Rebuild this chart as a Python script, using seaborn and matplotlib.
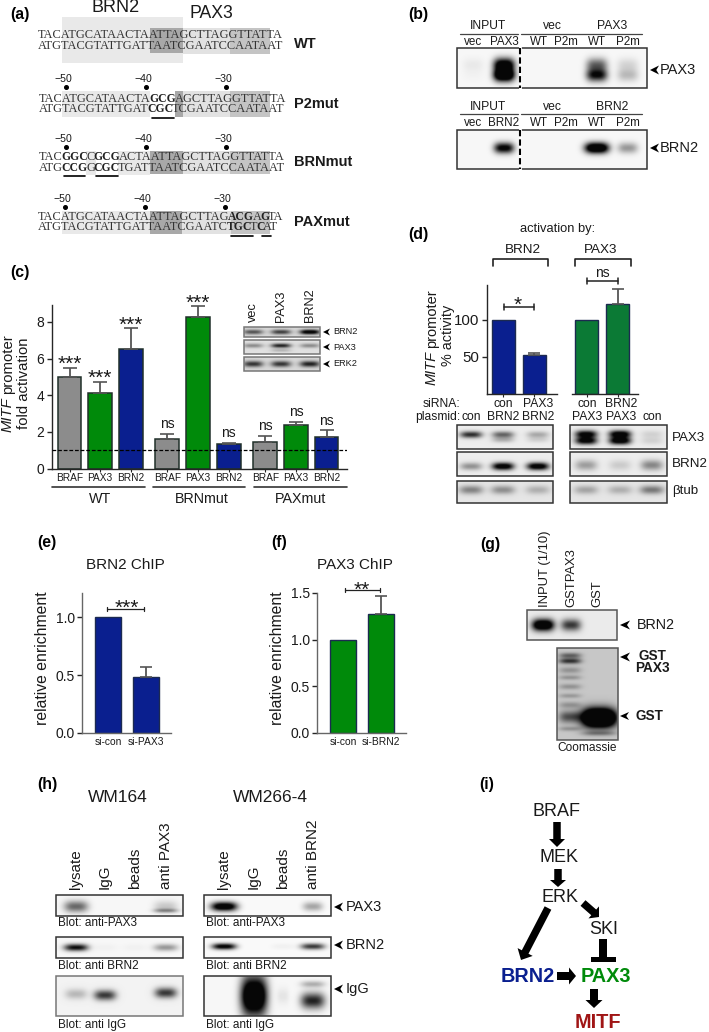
import numpy as np
import pandas as pd
import matplotlib
matplotlib.use("Agg")
import matplotlib.pyplot as plt
from matplotlib.patches import Rectangle, Polygon, FancyArrow
import seaborn as sns

# ---------- panel (c) ----------
c_positions = [0, 1, 2, 3.2, 4.2, 5.2, 6.4, 7.4, 8.4]
c_effectors = ["BRAF", "PAX3", "BRN2"] * 3
c_values = [5.0, 4.15, 6.5, 1.6, 8.25, 1.35, 1.45, 2.4, 1.75]
c_errors = [0.5, 0.6, 1.15, 0.3, 0.6, 0.07, 0.35, 0.15, 0.35]
c_sig = ["***", "***", "***", "ns", "***", "ns", "ns", "ns", "ns"]
c_groups = ["WT", "BRNmut", "PAXmut"]

# ---------- panel (d) ----------
d_left_labels = ["con BRN2", "PAX3 BRN2"]
d_left_values = [100, 53]
d_left_errors = [0, 2.5]
d_right_labels = ["con PAX3", "BRN2 PAX3"]
d_right_values = [100, 122]
d_right_errors = [0, 20]

# ---------- panels (e), (f) ----------
e_labels = ["si-con", "si-PAX3"]
e_values = [1.0, 0.48]
e_errors = [0, 0.09]
f_labels = ["si-con", "si-BRN2"]
f_values = [1.0, 1.28]
f_errors = [0, 0.19]

# ---------- panel (a) sequences ----------
seq_wt_top = "TACATGCATAACTAATTAGCTTAGGTTATTA"
seq_wt_bottom = "ATGTACGTATTGATTAATCGAATCCAATAAT"

# ---------- blot band strengths per lane ----------
b_pax3_upper = [0.06, 1.3, 0, 0, 0.6, 0.14]
b_pax3_lower = [0.02, 1.6, 0, 0, 1.0, 0.25]
b_brn2 = [0, 1.1, 0, 0, 1.5, 0.4]
c_blot_brn2 = [0.65, 0.75, 1.2]
c_blot_pax3 = [0.4, 0.9, 0.4]
c_blot_erk2 = [0.8, 0.8, 0.9]
d_left_pax3 = [0.85, 0.6, 0.3]
d_left_brn2 = [0.4, 1.2, 1.2]
d_left_btub = [0.45, 0.4, 0.25]
d_right_pax3 = [1.1, 1.2, 0.12]
d_right_brn2 = [0.35, 0.15, 0.45]
d_right_btub = [0.3, 0.25, 0.5]
g_brn2 = [1.5, 0.8, 0]
h_left_pax3 = [0.6, 0, 0, 0.2]
h_right_pax3 = [1.3, 0, 0, 0.35]
h_left_brn2 = [1.0, 0.03, 0.03, 0.4]
h_right_brn2 = [1.1, 0, 0.04, 0.8]
h_left_igg = [0.25, 0.8, 0, 0.8]
h_right_igg = [0, 1.6, 0.08, 0.9]

BLUE = "#0a1f8f"
GREEN = "#008a0a"
DGREEN = "#0b7a35"
GRAY = "#8c8c8c"
W, H = 709, 1032

sns.set_theme(style="ticks")
plt.rcParams["font.family"] = ["Liberation Sans", "DejaVu Sans"]
plt.rcParams["axes.linewidth"] = 1.0

fig = plt.figure(figsize=(W / 100, H / 100), dpi=100)
ov = fig.add_axes([0, 0, 1, 1], zorder=5)
ov.patch.set_alpha(0)
ov.axis("off")


def px_axes(x0, x1, y_top, y_bottom):
    ax = fig.add_axes([x0 / W, 1 - y_bottom / H, (x1 - x0) / W, (y_bottom - y_top) / H])
    ax.patch.set_alpha(0)
    sns.despine(ax=ax)
    return ax


def txt(x, y, s, size=8.7, ha="center", va="center", **kw):
    return ov.text(x, y, s, fontsize=size, ha=ha, va=va, color=kw.pop("color", "#1a1a1a"), **kw)


def panel(x, y, s):
    txt(x, y, s, size=11.4, fontweight="bold", color="black")


def mitf_label(x, y_bottom, rest, size):
    # MITF is italic, the rest upright, stacked along the rotated line
    t = txt(x, y_bottom, "MITF", size=size, rotation=90, va="bottom", style="italic")
    h = t.get_window_extent(fig.canvas.get_renderer()).height
    txt(x, y_bottom - h - 3, rest, size=size, rotation=90, va="bottom")


def head(x_tip, y, length=8, half=4):
    ov.add_patch(Polygon([(x_tip, y), (x_tip + length, y - half), (x_tip + length * 0.7, y),
                          (x_tip + length, y + half)], color="black", lw=0, zorder=6))


def blot(box, lane_x, layers, hw=10, bg=0.97, edge="#333333", lw=1.1):
    x0, x1, y0, y1 = box
    xs = np.linspace(x0, x1, int((x1 - x0) * 2))
    ys = np.linspace(0, 1, int((y1 - y0) * 2))
    xx, yy = np.meshgrid(xs, ys)
    img = np.zeros_like(xx)
    hws = np.broadcast_to(hw, (len(lane_x),))
    for levels, y, hh in layers:
        yl = np.broadcast_to(y, (len(lane_x),))
        hl = np.broadcast_to(hh, (len(lane_x),))
        for i, lx in enumerate(lane_x):
            img += levels[i] * np.exp(-np.abs((xx - lx) / hws[i]) ** 3) * np.exp(-((yy - yl[i]) / hl[i]) ** 2)
    img = bg * (1 - np.clip(img, 0, 1)) + 0.03 * np.clip(img, 0, 1)
    ov.imshow(img, cmap="gray", vmin=0, vmax=1, extent=(x0, x1, y1, y0), aspect="auto",
              interpolation="bilinear", zorder=1)
    ov.add_patch(Rectangle((x0, y0), x1 - x0, y1 - y0, fill=False, ec=edge, lw=lw, zorder=2))


def whisker(x0, x1, y, cap=3, lw=1.1, color="#222222"):
    ov.plot([x0, x1], [y, y], color=color, lw=lw)
    ov.plot([x0, x0], [y - cap, y + cap], color=color, lw=lw)
    ov.plot([x1, x1], [y - cap, y + cap], color=color, lw=lw)


def bracket(x0, x1, y_top, y_bottom):
    ov.plot([x0, x0, x1, x1], [y_bottom, y_top, y_top, y_bottom], color="#222222", lw=1.2)


def seq_line(x, y, parts, size=8.95):
    # fragments sit side by side, the extent is a little wider than the advance
    r = fig.canvas.get_renderer()
    for s, bold in parts:
        t = ov.text(x, y, s, fontsize=size - 0.6 if bold else size, family="Liberation Serif", ha="left", va="center",
                    color="#222222" if bold else "#333333", fontweight="bold" if bold else "normal", zorder=4)
        x += t.get_window_extent(r).width - 1.5
    return x


def shade(x0, x1, y0, y1, color):
    ov.add_patch(Rectangle((x0, y0), x1 - x0, y1 - y0, color=color, lw=0, zorder=1))


def simple_bars(ax, labels, values, errors, color, width, edge=None):
    df = pd.DataFrame({"label": labels, "value": values})
    sns.barplot(data=df, x="label", y="value", color=color, width=width, errorbar=None, saturation=1,
                edgecolor=edge if edge else "#1c2a50", linewidth=1.0, ax=ax)
    for i, (v, e) in enumerate(zip(values, errors)):
        if e > 0:
            ax.errorbar([i], [v], yerr=[[0], [e]], fmt="none", ecolor="#555555",
                        elinewidth=1.3, capsize=4.5, capthick=1.2)
    ax.set_xlabel("")
    ax.set_ylabel("")


# ---------- (a) ----------
panel(20, 15, "(a)")
txt(116, 8, "BRN2", size=13)
txt(211, 14, "PAX3", size=12.7)

shade(62, 183, 17, 63, "#e9e9e9")
shade(183, 230, 28, 54, "#e2e2e2")
shade(230, 270, 28, 54, "#c4c4c4")
shade(150, 183, 28, 53, "#a8a8a8")
seq_line(38, 35, [(seq_wt_top, False)])
seq_line(38, 46, [(seq_wt_bottom, False)])
txt(294, 44, "WT", size=10.5, ha="left", fontweight="bold")

for y_lab, y_dot, x_off in [(79, 87, 0), (139, 147, 0), (199, 207, -1)]:
    for dx, lab in zip([65, 145, 225], ["\u221250", "\u221240", "\u221230"]):
        txt(dx - 2 + x_off, y_lab, lab, size=7.6)
        ov.plot([dx + 1 + x_off], [y_dot], "o", ms=2.6, color="black")

# P2mut
shade(62, 150, 91, 117, "#e9e9e9")
shade(175, 183, 91, 117, "#a8a8a8")
shade(183, 230, 91, 117, "#e2e2e2")
shade(230, 270, 91, 117, "#c4c4c4")
seq_line(39, 99, [("TACATGCATAACTA", False), ("GCG", True), ("AGCTTAGGTTATTA", False)])
seq_line(39, 109, [("ATGTACGTATTGAT", False), ("CGC", True), ("TCGAATCCAATAAT", False)])
ov.plot([152, 174], [118, 118], color="black", lw=1.2)
txt(294, 104, "P2mut", size=10.5, ha="left", fontweight="bold")

# BRNmut
shade(86, 96, 151, 175, "#e9e9e9")
shade(118, 150, 151, 175, "#e9e9e9")
shade(150, 183, 151, 174, "#a8a8a8")
shade(183, 230, 151, 174, "#e2e2e2")
shade(230, 270, 151, 174, "#c4c4c4")
seq_line(39, 157, [("TAC", False), ("GGC", True), ("C", False), ("GCG", True), ("ACTAATTAGCTTAGGTTATTA", False)])
seq_line(39, 168, [("ATG", False), ("CCG", True), ("G", False), ("CGC", True), ("TGATTAATCGAATCCAATAAT", False)])
ov.plot([64, 85], [176, 176], color="black", lw=1.2)
ov.plot([96, 118], [176, 176], color="black", lw=1.2)
txt(294, 162, "BRNmut", size=10.5, ha="left", fontweight="bold")

# PAXmut
shade(62, 150, 211, 234, "#e9e9e9")
shade(150, 182, 211, 234, "#a8a8a8")
shade(182, 231, 211, 234, "#e2e2e2")
shade(231, 270, 211, 234, "#c4c4c4")
seq_line(38, 217, [("TACATGCATAACTAATTAGCTTAG", False), ("ACG", True), ("A", False), ("G", True), ("TA", False)])
seq_line(38, 227, [("ATGTACGTATTGATTAATCGAATC", False), ("TGC", True), ("T", False), ("C", True), ("AT", False)])
ov.plot([231, 253], [236, 236], color="black", lw=1.2)
ov.plot([262, 271], [236, 236], color="black", lw=1.2)
txt(294, 222, "PAXmut", size=10.5, ha="left", fontweight="bold")

# ---------- (b) ----------
panel(418, 15, "(b)")
b_lanes = [473, 504, 539, 566, 597, 628]
for y_head, y_line, y_lane, name, y_arrow, box, layers, hw in [
    (26, 34, 42, "PAX3", 70, (457, 647, 48, 88),
     [(b_pax3_upper, 0.42, 0.17), (b_pax3_lower, 0.68, 0.16)], 10.5),
    (107, 114, 123, "BRN2", 148, (457, 647, 130, 169),
     [(b_brn2, 0.46, 0.14)], [9, 10, 9, 9, 12, 10]),
]:
    txt(488, y_head, "INPUT")
    txt(552, y_head, "vec")
    txt(612, y_head, name)
    ov.plot([460, 518], [y_line, y_line], color="#444444", lw=0.9)
    ov.plot([521, 642], [y_line, y_line], color="#444444", lw=0.9)
    for lx, lab in zip(b_lanes, ["vec", name, "WT", "P2m", "WT", "P2m"]):
        txt(lx, y_lane, lab, size=8.4)
    blot(box, b_lanes, layers, hw=hw)
    ov.plot([520, 520], [box[2] - 1, box[3] + 1], color="white", lw=2, zorder=3)
    ov.plot([520, 520], [box[2], box[3]], color="black", lw=1.5, ls=(0, (3, 1.5)), zorder=3)
    head(650, y_arrow, length=9, half=4.5)
    txt(660, y_arrow, name, size=10.5, ha="left")

# ---------- (c) ----------
panel(20, 273, "(c)")
ax_c = px_axes(52, 347, 305, 468.7)
df_c = pd.DataFrame({"pos": c_positions, "value": c_values, "effector": c_effectors})
sns.barplot(data=df_c, x="pos", y="value", hue="effector", palette={"BRAF": GRAY, "PAX3": GREEN, "BRN2": BLUE},
            native_scale=True, dodge=False, width=0.78, errorbar=None, saturation=1, legend=False,
            edgecolor="#20302a", linewidth=1.1, ax=ax_c)
ax_c.errorbar(c_positions, c_values, yerr=[[0] * 9, c_errors], fmt="none", ecolor="#555555", elinewidth=1.3,
              capsize=5, capthick=1.2)
ax_c.axhline(1, color="black", lw=0.9, ls=(0, (3, 1.5)), zorder=5)
ax_c.set_xlim(-0.572, 9.07)
ax_c.set_ylim(0, 8.92)
ax_c.set_yticks([0, 2, 4, 6, 8])
ax_c.set_xticks(c_positions)
ax_c.set_xticklabels(c_effectors)
ax_c.tick_params(axis="y", labelsize=10, length=3.5, width=1, pad=2, labelcolor="#1a1a1a")
ax_c.tick_params(axis="x", labelsize=7.3, length=2, width=0.8, pad=1, labelcolor="#1a1a1a")
ax_c.set_xlabel("")
ax_c.set_ylabel("")
for p, v, e, s in zip(c_positions, c_values, c_errors, c_sig):
    if s == "ns":
        ax_c.annotate(s, (p, v + e), xytext=(0, 4), textcoords="offset points", ha="center", va="baseline",
                      fontsize=10, color="#1a1a1a")
    else:
        ax_c.annotate(s, (p, v + e), xytext=(0, -1.5), textcoords="offset points", ha="center", va="baseline",
                      fontsize=15, color="#1a1a1a")
mitf_label(8, 432, "promoter", 10.7)
txt(24, 383, "fold activation", size=10.7, rotation=90)
for x0, x1, xc, lab in zip([52, 153, 254], [145, 245, 347], [100, 202, 300], c_groups):
    ov.plot([x0, x1], [487, 487], color="#333333", lw=1.2)
    txt(xc, 499, lab, size=10.3)

c_lanes = [253, 281, 310]
for lx, lab in zip(c_lanes, ["vec", "PAX3", "BRN2"]):
    txt(lx, 322, lab, size=9.2, rotation=90, va="bottom")
blot((244, 320, 327, 337), c_lanes, [(c_blot_brn2, 0.5, 0.25)], hw=10, bg=0.85, edge="#777777")
blot((244, 320, 340, 354), c_lanes, [(c_blot_pax3, 0.4, 0.16), ([0, 0.2, 0], 0.75, 0.12)], hw=10, bg=0.88, edge="#777777")
blot((244, 320, 357, 371), c_lanes, [(c_blot_erk2, 0.5, 0.22)], hw=10, bg=0.85, edge="#777777")
for y, lab in zip([332, 347, 364], ["BRN2", "PAX3", "ERK2"]):
    head(323, y, length=7, half=3.5)
    txt(333, y, lab, size=6.6, ha="left")

# ---------- (d) ----------
panel(418, 234, "(d)")
txt(558, 229, "activation by:", size=9.3)
txt(523, 250, "BRN2", size=9.7)
txt(601, 250, "PAX3", size=9.7)
bracket(493, 548, 259, 266)
bracket(575, 631, 259, 266)
txt(602, 273, "ns", size=10)
whisker(587, 618, 281)
whisker(504, 534, 307)
txt(518, 305, "*", size=15)

ax_d1 = px_axes(487, 557, 285, 394)
simple_bars(ax_d1, d_left_labels, d_left_values, d_left_errors, BLUE, 0.75)
ax_d1.set_xlim(-0.53, 1.726)
ax_d1.set_ylim(0, 147)
ax_d1.set_yticks([50, 100])
ax_d1.set_xticks([0, 1])
ax_d1.set_xticklabels(["", ""])
ax_d1.tick_params(axis="y", labelsize=10.8, length=3.5, width=1, pad=2, labelcolor="#1a1a1a")
ax_d1.tick_params(axis="x", length=2, width=0.8)

ax_d2 = px_axes(572, 638, 285, 394)
simple_bars(ax_d2, d_right_labels, d_right_values, d_right_errors, DGREEN, 0.75)
ax_d2.set_xlim(-0.468, 1.66)
ax_d2.set_ylim(0, 147)
ax_d2.set_yticks([])
ax_d2.spines["left"].set_visible(False)
ax_d2.set_xticks([0, 1])
ax_d2.set_xticklabels(["", ""])
ax_d2.tick_params(axis="x", length=2, width=0.8)

mitf_label(432, 385, "promoter", 10.5)
txt(448, 335, "% activity", size=10.4, rotation=90)

txt(460, 404, "siRNA:", ha="right", size=8.7)
txt(460, 417, "plasmid:", ha="right", size=8.7)
txt(471, 417, "con", size=8.7)
for x, a, b in [(503, "con", "BRN2"), (538, "PAX3", "BRN2"), (587, "con", "PAX3"), (621, "BRN2", "PAX3")]:
    txt(x, 404, a, size=8.7)
    txt(x, 417, b, size=8.7)
txt(652, 417, "con", size=8.7)

d_l = [471, 503, 538]
d_r = [586, 620, 652]
blot((457, 553, 425, 449), d_l, [(d_left_pax3, 0.4, 0.14), ([0, 0.25, 0.12], 0.62, 0.12)], hw=11, bg=0.93)
blot((570, 667, 425, 449), d_r, [(d_right_pax3, 0.38, 0.16), (d_right_pax3, 0.66, 0.16)], hw=11, bg=0.93)
blot((457, 553, 452, 476), d_l, [(d_left_brn2, 0.6, 0.16)], hw=11, bg=0.93)
blot((570, 667, 452, 476), d_r, [(d_right_brn2, 0.55, 0.22)], hw=11, bg=0.93)
blot((457, 553, 481, 503), d_l, [(d_left_btub, 0.4, 0.2)], hw=12, bg=0.9)
blot((570, 667, 481, 503), d_r, [(d_right_btub, 0.4, 0.2)], hw=12, bg=0.9)
txt(672, 438, "PAX3", size=9.6, ha="left")
txt(672, 464, "BRN2", size=9.6, ha="left")
txt(672, 491, "\u03b2tub", size=9.6, ha="left")

# ---------- (e) ----------
panel(47, 543, "(e)")
txt(125, 565, "BRN2 ChIP", size=11)
ax_e = px_axes(82, 171, 593, 733)
simple_bars(ax_e, e_labels, e_values, e_errors, BLUE, 0.69)
ax_e.set_xlim(-0.684, 1.658)
ax_e.set_ylim(0, 1.207)
ax_e.set_yticks([0, 0.5, 1.0])
ax_e.set_yticklabels(["0.0", "0.5", "1.0"])
ax_e.tick_params(axis="y", labelsize=10, length=3.5, width=1, pad=1.5, labelcolor="#1a1a1a")
ax_e.tick_params(axis="x", labelsize=7.4, length=0, pad=3, labelcolor="#1a1a1a")
for s in ax_e.spines.values():
    s.set_color("#666666")
txt(43, 658, "relative enrichment", size=11.3, rotation=90)
whisker(107, 144, 609, cap=2, lw=0.9)
txt(127, 608, "***", size=15)

# ---------- (f) ----------
panel(279, 543, "(f)")
txt(355, 565, "PAX3 ChIP", size=11)
ax_f = px_axes(317, 406, 593, 733)
simple_bars(ax_f, f_labels, f_values, f_errors, GREEN, 0.69)
ax_f.set_xlim(-0.684, 1.658)
ax_f.set_ylim(0, 1.5)
ax_f.set_yticks([0, 0.5, 1.0, 1.5])
ax_f.set_yticklabels(["0.0", "0.5", "1.0", "1.5"])
ax_f.tick_params(axis="y", labelsize=10, length=3.5, width=1, pad=1.5, labelcolor="#1a1a1a")
ax_f.tick_params(axis="x", labelsize=7.4, length=0, pad=3, labelcolor="#1a1a1a")
for s in ax_f.spines.values():
    s.set_color("#666666")
txt(278, 658, "relative enrichment", size=11.3, rotation=90)
whisker(345, 380, 590, cap=2, lw=0.9)
txt(362, 590, "**", size=15)

# ---------- (g) ----------
panel(490, 544, "(g)")
for x, lab in zip([545, 571, 597], ["INPUT (1/10)", "GSTPAX3", "GST"]):
    txt(x, 607, lab, size=9.4, rotation=90, va="bottom")
blot((527, 617, 610, 640), [543, 571, 597], [(g_brn2, 0.5, 0.2)], hw=[11, 10, 10], bg=0.92, edge="#555555")
head(620, 625, length=10, half=4.5)
txt(637, 625, "BRN2", size=10.4, ha="left")
g_lanes = [570, 599]
blot((557, 618, 648, 740), g_lanes,
     [([0.55, 0], 0.08, 0.03), ([0.8, 0], 0.14, 0.03), ([0.28, 0], 0.24, 0.035), ([0.28, 0], 0.32, 0.025),
      ([0.28, 0], 0.42, 0.03), ([0.25, 0], 0.52, 0.025), ([0.28, 0], 0.62, 0.035),
      ([0.65, 0], 0.75, 0.065), ([0.28, 0], 0.88, 0.025), ([0, 2.6], 0.76, 0.1), ([0, 0.35], 0.93, 0.025)],
     hw=[11, 17], bg=0.78, edge="#555555")
head(620, 657, length=10, half=4.5)
txt(652, 656, "GST", size=9.8, fontweight="bold")
txt(652, 668, "PAX3", size=9.8, fontweight="bold")
head(620, 716, length=9, half=4)
txt(635, 716, "GST", size=9.8, fontweight="bold", ha="left")
txt(587, 748, "Coomassie", size=8.6)

# ---------- (h) ----------
panel(47, 784, "(h)")
txt(118, 798, "WM164", size=12.5)
txt(270, 798, "WM266-4", size=12.5)
h_l = [76, 105, 135, 166]
h_r = [224, 254, 283, 313]
for lanes, labs in [(h_l, ["lysate", "IgG", "beads", "anti PAX3"]), (h_r, ["lysate", "IgG", "beads", "anti BRN2"])]:
    for lx, lab in zip(lanes, labs):
        txt(lx, 889, lab, size=11, rotation=90, va="bottom")
blot((56, 183, 895, 916), h_l, [(h_left_pax3, 0.55, 0.28), ([0, 0, 0, 0.4], 0.75, 0.1)], hw=12, bg=0.97)
blot((204, 331, 895, 916), h_r, [(h_right_pax3, 0.55, 0.22)], hw=[13, 10, 10, 10], bg=0.98)
blot((56, 183, 937, 958), h_l, [(h_left_brn2, 0.5, 0.17)], hw=12, bg=0.97)
blot((204, 331, 937, 958), h_r, [(h_right_brn2, 0.45, 0.15)], hw=12, bg=0.98)
blot((56, 183, 976, 1016), h_l, [(h_left_igg, [0.45, 0.48, 0.5, 0.42], 0.13)], hw=11, bg=0.95, edge="#777777")
blot((204, 331, 976, 1016), h_r, [(h_right_igg, [0.5, 0.5, 0.5, 0.62], [0.3, 0.5, 0.2, 0.2]),
                                  ([0, 0, 0, 0.3], 0.2, 0.08)], hw=[10, 13, 6, 12], bg=0.97)
for x, lab_a, lab_b, lab_c in [(58, "Blot: anti-PAX3", "Blot: anti BRN2", "Blot: anti IgG"),
                               (206, "Blot: anti-PAX3", "Blot: anti BRN2", "Blot: anti IgG")]:
    txt(x, 923, lab_a, size=8.5, ha="left")
    txt(x, 966, lab_b, size=8.5, ha="left")
    txt(x, 1025, lab_c, size=8.5, ha="left")
for y, lab in zip([907, 945, 989], ["PAX3", "BRN2", "IgG"]):
    head(334, y, length=9, half=4.5)
    txt(346, y, lab, size=10.5, ha="left")

# ---------- (i) ----------
panel(487, 785, "(i)")
txt(557, 812, "BRAF", size=13)
txt(559, 857, "MEK", size=13)
txt(560, 897, "ERK", size=13)
txt(604, 929, "SKI", size=13)
txt(528, 976, "BRN2", size=14.3, fontweight="bold", color=BLUE)
txt(606, 976, "PAX3", size=14.3, fontweight="bold", color=GREEN)
txt(598, 1022, "MITF", size=14.3, fontweight="bold", color="#a01515")
for x0, y0, x1, y1, w, hw, hl in [(557, 822, 557, 847, 7.5, 16, 8), (558, 869, 558, 887, 7.5, 16, 7),
                                  (583, 903, 599, 917, 7.5, 16, 7), (548, 908, 521, 960, 7.5, 17, 9),
                                  (557, 976, 576, 976, 8, 17, 7), (594, 989, 594, 1008, 8, 17, 8)]:
    ov.add_patch(FancyArrow(x0, y0, x1 - x0, y1 - y0, width=w, head_width=hw, head_length=hl,
                            length_includes_head=True, color="black", lw=0))
ov.add_patch(Rectangle((599, 939), 8, 19, color="black", lw=0))
ov.add_patch(Rectangle((591, 957), 25, 5, color="black", lw=0))

ov.set_xlim(0, W)
ov.set_ylim(H, 0)
fig.savefig("out.png", dpi=100)
